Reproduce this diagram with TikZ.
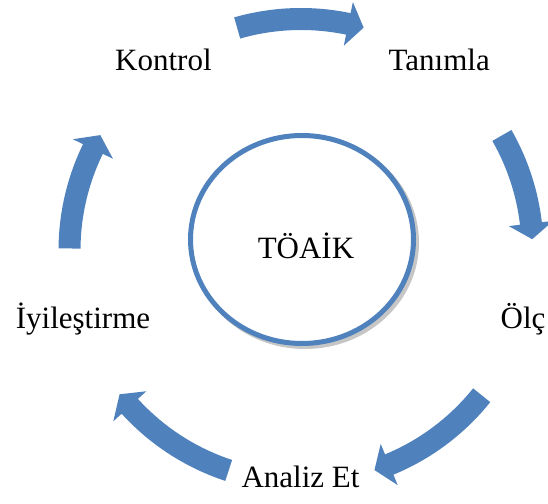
\documentclass[tikz,border=0pt]{standalone}
\usepackage{fontspec}
\setmainfont{Liberation Serif}
\usetikzlibrary{calc}
\definecolor{cycleblue}{HTML}{4F81BD}

% Curved block arrow around (hub): #1 = tail angle, #2 = tip angle (clockwise)
\newcommand{\cyclearrow}[2]{%
  \pgfmathsetmacro{\headang}{#2+3.9}%
  \fill[cycleblue]
    ($(hub)+(#1:242.5)$) arc[start angle=#1, end angle=\headang, radius=242.5]
    -- ($(hub)+(\headang:253.8)$) -- ($(hub)+(#2:231.5)$)
    -- ($(hub)+(\headang:209.2)$) -- ($(hub)+(\headang:220.5)$)
    arc[start angle=\headang, end angle=#1, radius=220.5] -- cycle;
}

\begin{document}
\begin{tikzpicture}[x=1pt, y=1pt,
  steplabel/.style={font=\fontsize{31}{37}\selectfont, anchor=base, inner sep=0pt}]
\useasboundingbox (0,0) rectangle (548,503);
\coordinate (hub) at (301,252.5);

% cycle arrows
\cyclearrow{106.0}{74.3}
\cyclearrow{29.8}{2.8}
\cyclearrow{-38.7}{-71.5}
\cyclearrow{-108.2}{-141.6}
\cyclearrow{179.5}{150.1}

% central circle with its shadow
\coordinate (core) at (302,263.5);
\draw[gray!45, line width=5pt] ($(core)+(3,-3)$) ellipse[x radius=111.5, y radius=104];
\draw[cycleblue, line width=5pt, fill=white] (core) ellipse[x radius=111.5, y radius=104];
\node[steplabel] (title) at (306,244.7) {TÖAİK};

% step labels
\node[steplabel] (kontrol) at (163.4,432) {Kontrol};
\node[steplabel] (tanimla) at (439.2,432) {Tanımla};
\node[steplabel] (olc) at (523,174.7) {Ölç};
\node[steplabel] (analiz) at (300.5,15.3) {Analiz Et};
\node[steplabel] (iyiles) at (83,174.7) {İyileştirme};
\end{tikzpicture}
\end{document}
